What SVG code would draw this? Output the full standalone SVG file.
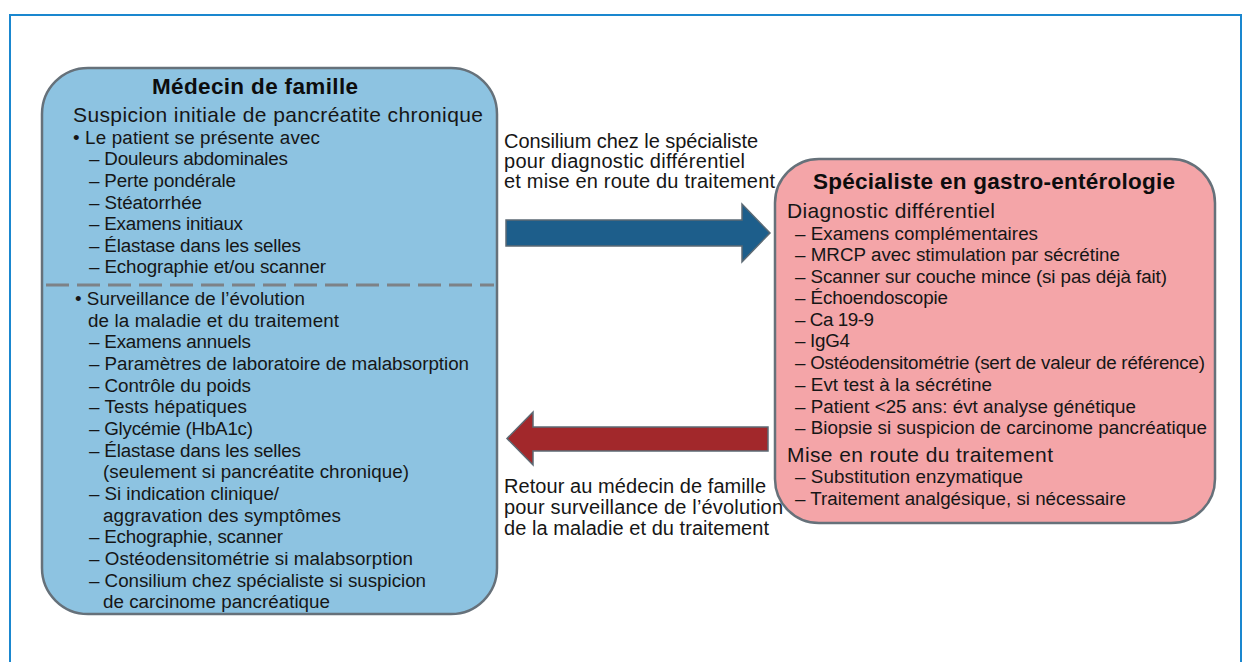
<svg xmlns="http://www.w3.org/2000/svg" width="1245" height="662" viewBox="0 0 1245 662">
<style>
text{font-family:"Liberation Sans",Arial,sans-serif;fill:#161616}
.t{font-size:22.5px;font-weight:bold;text-anchor:middle;fill:#0d0d0d}
.h{font-size:21px}
.i{font-size:18.8px}
.l{font-size:20px}
.box{stroke:#66717a;stroke-width:2.5}
.arr{stroke:#5c6a74;stroke-width:1.5}
</style>
<rect width="1245" height="662" fill="#fff"/>
<path d="M10,662 V15 H1241 V662" fill="none" stroke="#1a87cf" stroke-width="2"/>

<g id="medecin">
<rect class="box" x="42" y="68" width="455" height="546" rx="46" ry="46" fill="#8dc3e1"/>
<line x1="46" y1="285" x2="494" y2="285" stroke="#7d8287" stroke-width="3" stroke-dasharray="23 8"/>
<text class="t" x="255" y="94" textLength="206">Médecin de famille</text>
<text class="h" x="73" y="122" textLength="410">Suspicion initiale de pancréatite chronique</text>
<text class="i" x="73" y="143.5" textLength="247">• Le patient se présente avec</text>
<text class="i" x="89" y="165.2" textLength="199">– Douleurs abdominales</text>
<text class="i" x="89" y="186.8" textLength="147">– Perte pondérale</text>
<text class="i" x="89" y="208.5" textLength="113">– Stéatorrhée</text>
<text class="i" x="89" y="230.1" textLength="154">– Examens initiaux</text>
<text class="i" x="89" y="251.8" textLength="212">– Élastase dans les selles</text>
<text class="i" x="89" y="273.4" textLength="237">– Echographie et/ou scanner</text>
<text class="i" x="75" y="305" textLength="230">• Surveillance de l’évolution</text>
<text class="i" x="88" y="326.7" textLength="251">de la maladie et du traitement</text>
<text class="i" x="89" y="348.3" textLength="162">– Examens annuels</text>
<text class="i" x="89" y="370" textLength="380">– Paramètres de laboratoire de malabsorption</text>
<text class="i" x="89" y="391.6" textLength="162">– Contrôle du poids</text>
<text class="i" x="89" y="413.3" textLength="158">– Tests hépatiques</text>
<text class="i" x="89" y="434.9" textLength="164">– Glycémie (HbA1c)</text>
<text class="i" x="89" y="456.6" textLength="212">– Élastase dans les selles</text>
<text class="i" x="103" y="478.2" textLength="306">(seulement si pancréatite chronique)</text>
<text class="i" x="89" y="499.9" textLength="190">– Si indication clinique/</text>
<text class="i" x="103" y="521.5" textLength="238">aggravation des symptômes</text>
<text class="i" x="89" y="543.2" textLength="194">– Echographie, scanner</text>
<text class="i" x="89" y="564.8" textLength="324">– Ostéodensitométrie si malabsorption</text>
<text class="i" x="89" y="586.5" textLength="337">– Consilium chez spécialiste si suspicion</text>
<text class="i" x="103" y="608.1" textLength="227">de carcinome pancréatique</text>
</g>

<g id="specialiste">
<rect class="box" x="775" y="159" width="440" height="364" rx="44" ry="44" fill="#f4a5a8"/>
<text class="t" x="994" y="189.3" textLength="362">Spécialiste en gastro-entérologie</text>
<text class="h" x="787" y="218.3" textLength="208">Diagnostic différentiel</text>
<text class="i" x="795" y="239.5" textLength="243">– Examens complémentaires</text>
<text class="i" x="795" y="261.1" textLength="325">– MRCP avec stimulation par sécrétine</text>
<text class="i" x="795" y="282.6" textLength="372">– Scanner sur couche mince (si pas déjà fait)</text>
<text class="i" x="795" y="304.2" textLength="153">– Échoendoscopie</text>
<text class="i" x="795" y="325.8" textLength="79">– Ca 19-9</text>
<text class="i" x="795" y="347.4" textLength="55">– IgG4</text>
<text class="i" x="795" y="369.1" textLength="410">– Ostéodensitométrie (sert de valeur de référence)</text>
<text class="i" x="795" y="390.8" textLength="197">– Evt test à la sécrétine</text>
<text class="i" x="795" y="412.5" textLength="341">– Patient &lt;25 ans: évt analyse génétique</text>
<text class="i" x="795" y="434.2" textLength="412">– Biopsie si suspicion de carcinome pancréatique</text>
<text class="h" x="787" y="461.7" textLength="266">Mise en route du traitement</text>
<text class="i" x="795" y="483.3" textLength="228">– Substitution enzymatique</text>
<text class="i" x="795" y="505" textLength="331">– Traitement analgésique, si nécessaire</text>
</g>

<g id="connectors">
<polygon class="arr" points="506,220 742,220 742,204 770,233 742,262 742,246 506,246" fill="#1d5e8b"/>
<polygon class="arr" points="507,438.5 533,412 533,427 768,427 768,451 533,451 533,465" fill="#a2282b"/>
<text class="l" x="504" y="147.7" textLength="254">Consilium chez le spécialiste</text>
<text class="l" x="504" y="168.3" textLength="241">pour diagnostic différentiel</text>
<text class="l" x="504" y="188.3" textLength="271">et mise en route du traitement</text>
<text class="l" x="504" y="493.3" textLength="262">Retour au médecin de famille</text>
<text class="l" x="504" y="514.3" textLength="279">pour surveillance de l’évolution</text>
<text class="l" x="504" y="535" textLength="265">de la maladie et du traitement</text>
</g>
</svg>
